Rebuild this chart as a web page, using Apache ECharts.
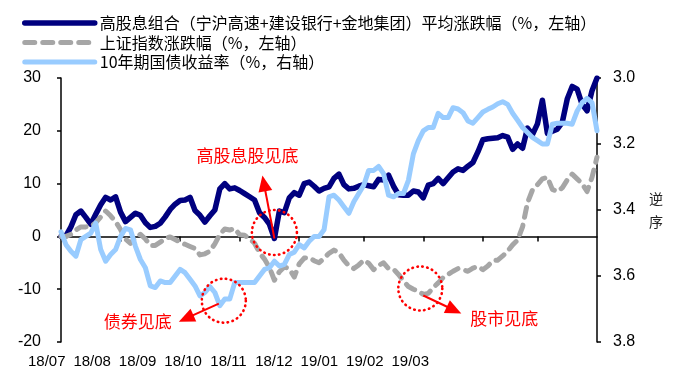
<!DOCTYPE html>
<html>
<head>
<meta charset="utf-8">
<script src="https://cdn.jsdelivr.net/npm/echarts@6/dist/echarts.min.js"></script>
<style>
  html, body { margin: 0; padding: 0; background: #fff; }
  #chart { width: 688px; height: 369px; }
</style>
</head>
<body>
<div id="chart"></div>
<script>
// Month labels shown under the chart
const monthLabels = ['18/07', '18/08', '18/09', '18/10', '18/11', '18/12', '19/01', '19/02', '19/03'];

// Positions (sample index) where each new month begins
const monthStartIdx = [12, 24, 36, 48, 61, 73, 85, 96];

// 高股息组合平均涨跌幅 (%), left axis
const highDividend = [
  0, 0.1, 1.8, 4.1, 4.8, 3.6, 2.3, 4.2, 6.0, 7.4,
  6.9, 7.5, 4.6, 2.8, 3.6, 4.4, 4.0, 2.6, 1.7, 1.9,
  2.5, 3.7, 5.1, 6.1, 6.8, 6.9, 7.4, 4.9, 4.0, 2.7,
  3.9, 5.0, 9.0, 10.0, 9.0, 9.2, 8.7, 8.1, 7.5, 6.9,
  4.5, 3.6, 2.3, -0.4, 4.8, 4.5, 7.3, 8.3, 7.8, 10.0,
  10.3, 9.5, 8.6, 9.1, 9.4, 11.0, 11.8, 9.8, 9.0, 9.1,
  9.5, 9.8, 9.6, 9.4, 10.8, 10.7, 11.6, 9.5, 7.9, 7.8,
  7.8, 8.6, 8.4, 7.3, 9.7, 10.0, 11.0, 10.0, 11.1, 12.2,
  12.8, 12.5, 13.3, 14.0, 16.0, 18.3, 18.5, 18.6, 18.7, 19.1,
  18.8, 16.5, 17.5, 16.7, 20.5, 19.3, 21.3, 25.8, 19.5, 19.9,
  20.3, 21.6, 26.0, 28.4, 27.9, 25.0, 23.8, 27.6, 30.0
];

// 上证指数涨跌幅 (%), left axis
const shIndex = [
  0, 0, 0.4, 1.2, 1.8, 1.8, 1.9, 2.6, 3.7, 4.8,
  3.9, 2.8, 1.3, -0.5, -1.3, -0.3, 0.4, -0.5, -1.7, -1.7,
  -1.1, -0.4, -0.1, -0.6, -1.1, -1.5, -1.9, -2.3, -3.5, -3.3,
  -2.8, -1.4, 0.4, 1.4, 1.2, 1.5, 0.3, 0.2, -0.4, -1.3,
  -3.1, -4.3, -5.9, -8.3, -6.7, -5.8, -6.1, -7.7, -5.2, -4.1,
  -4.0, -4.6, -5.0, -4.1, -3.2, -2.6, -3.1, -4.5, -5.6, -6.1,
  -5.4, -4.5, -5.1, -6.3, -5.5, -5.0, -6.1, -6.2, -7.2, -8.4,
  -9.5, -10.0, -10.4, -11.0, -10.8, -9.7, -8.8, -7.8, -7.2, -6.6,
  -6.1, -6.3, -6.6, -6.0, -5.7, -6.3, -5.6, -4.6, -4.5, -3.7,
  -2.8, -1.6, -0.7, 1.8, 6.4, 8.8, 9.8, 10.9, 11.2, 8.9,
  8.5, 9.2, 10.7, 11.8, 10.9, 10.0, 8.5, 11.2, 15.0
];

// 10年期国债收益率 (%), right axis (inverted)
const bondYield = [
  3.466, 3.505, 3.525, 3.54, 3.49, 3.48, 3.47, 3.44, 3.52, 3.555,
  3.535, 3.52, 3.48, 3.456, 3.46, 3.51, 3.55, 3.575, 3.63, 3.635,
  3.615, 3.62, 3.62, 3.60, 3.58, 3.59, 3.61, 3.63, 3.66, 3.65,
  3.632, 3.65, 3.69, 3.67, 3.67, 3.62, 3.62, 3.62, 3.62, 3.62,
  3.60, 3.58, 3.575, 3.555, 3.57, 3.565, 3.535, 3.528, 3.505, 3.515,
  3.495, 3.48, 3.48, 3.46, 3.36, 3.355, 3.37, 3.39, 3.41, 3.375,
  3.35, 3.325, 3.28, 3.28, 3.268, 3.29, 3.355, 3.36, 3.35, 3.35,
  3.31, 3.23, 3.19, 3.16, 3.15, 3.15, 3.107, 3.12, 3.12, 3.09,
  3.094, 3.105, 3.13, 3.137, 3.12, 3.103, 3.095, 3.088, 3.078, 3.072,
  3.08, 3.107, 3.128, 3.15, 3.165, 3.18, 3.19, 3.20, 3.20, 3.14,
  3.137, 3.137, 3.137, 3.14, 3.10, 3.075, 3.062, 3.075, 3.16
];

const seriesNames = [
  '高股息组合（宁沪高速+建设银行+金地集团）平均涨跌幅（%，左轴）',
  '上证指数涨跌幅（%，左轴）',
  '10年期国债收益率（%，右轴）'
];

const sampleIdx = highDividend.map((_, i) => String(i));
const tickSet = new Set(monthStartIdx);

const NUM_FONT = 'Liberation Sans, Arial, sans-serif';
const CJK_FONT = 'Noto Sans CJK SC, sans-serif';
const RED = '#ff0000';

const navyLine = { color: '#00007f', width: 5.5, join: 'round', cap: 'round' };
const greyLine = { color: '#a6a6a6', width: 5, type: [10, 8], cap: 'round', join: 'round' };
const blueLine = { color: '#99ccff', width: 5, join: 'round', cap: 'round' };

const chart = echarts.init(document.getElementById('chart'), null, { renderer: 'canvas' });

chart.setOption({
  animation: false,
  backgroundColor: '#ffffff',
  grid: [
    { left: 61, right: 91, top: 78, bottom: 27 },
    { left: 24, width: 409, top: 78, bottom: 27 }
  ],
  legend: {
    orient: 'vertical',
    left: 22,
    top: 15,
    padding: 0,
    itemWidth: 70,
    itemHeight: 14,
    itemGap: 3.5,
    // line-only legend keys (hide the marker drawn in the middle)
    itemStyle: { color: 'rgba(0,0,0,0)', borderWidth: 0, opacity: 0 },
    textStyle: { fontSize: 16, color: '#000', fontFamily: CJK_FONT, lineHeight: 16 },
    data: [
      { name: seriesNames[0], lineStyle: { width: 5.5, color: '#00007f', cap: 'round' } },
      { name: seriesNames[1], lineStyle: { width: 5, color: '#a6a6a6', type: [10, 8], cap: 'round' } },
      { name: seriesNames[2], lineStyle: { width: 5, color: '#99ccff', cap: 'round' } }
    ]
  },
  xAxis: [
    {
      type: 'category',
      gridIndex: 0,
      data: sampleIdx,
      boundaryGap: false,
      axisLine: { onZero: true, onZeroAxisIndex: 0, lineStyle: { color: '#000', width: 1.5 } },
      axisTick: {
        show: true,
        length: 5,
        interval: (index) => tickSet.has(index),
        lineStyle: { color: '#000', width: 1.5 }
      },
      axisLabel: { show: false },
      splitLine: { show: false }
    },
    {
      type: 'category',
      gridIndex: 1,
      data: monthLabels,
      boundaryGap: true,
      position: 'bottom',
      axisLine: { show: false },
      axisTick: { show: false },
      axisLabel: { show: true, interval: 0, margin: 13, fontSize: 15, color: '#000', fontFamily: NUM_FONT },
      splitLine: { show: false }
    }
  ],
  yAxis: [
    {
      type: 'value',
      gridIndex: 0,
      position: 'left',
      min: -20,
      max: 30,
      interval: 10,
      axisLine: { show: true, lineStyle: { color: '#000', width: 1.5 } },
      axisTick: { show: true, length: 4, lineStyle: { color: '#000', width: 1.5 } },
      axisLabel: { margin: 20, fontSize: 16, color: '#000', fontFamily: NUM_FONT },
      splitLine: { show: false }
    },
    {
      type: 'value',
      gridIndex: 0,
      position: 'right',
      inverse: true,
      min: 3.0,
      max: 3.8,
      interval: 0.2,
      name: '逆\n序',
      nameLocation: 'middle',
      nameRotate: 0,
      nameGap: 52,
      nameTextStyle: { fontSize: 14, color: '#222', fontFamily: CJK_FONT, lineHeight: 23 },
      axisLine: { show: true, lineStyle: { color: '#000', width: 1.5 } },
      axisTick: { show: true, length: 4, lineStyle: { color: '#000', width: 1.5 } },
      axisLabel: {
        margin: 16, fontSize: 16, color: '#000', fontFamily: NUM_FONT,
        formatter: (v) => v.toFixed(1)
      },
      splitLine: { show: false }
    },
    {
      type: 'value',
      gridIndex: 1,
      show: false
    }
  ],
  series: [
    {
      name: seriesNames[0],
      type: 'line',
      xAxisIndex: 0,
      yAxisIndex: 0,
      data: highDividend,
      symbol: 'none',
      lineStyle: navyLine,
      itemStyle: { color: navyLine.color },
      z: 2
    },
    {
      name: seriesNames[1],
      type: 'line',
      xAxisIndex: 0,
      yAxisIndex: 0,
      data: shIndex,
      symbol: 'none',
      lineStyle: greyLine,
      itemStyle: { color: greyLine.color },
      z: 3
    },
    {
      name: seriesNames[2],
      type: 'line',
      xAxisIndex: 0,
      yAxisIndex: 1,
      data: bondYield,
      symbol: 'none',
      lineStyle: blueLine,
      itemStyle: { color: blueLine.color },
      z: 4
    }
  ]
});

// Annotations anchored to the low points of each series
function px(seriesIndex, idx, val) {
  return chart.convertToPixel({ seriesIndex: seriesIndex }, [idx, val]);
}

function argMin(arr) {
  let k = 0;
  arr.forEach((v, i) => { if (v < arr[k]) k = i; });
  return k;
}
function argMax(arr) {
  let k = 0;
  arr.forEach((v, i) => { if (v > arr[k]) k = i; });
  return k;
}

function arrow(from, to, headLen, headHalf) {
  const dx = to[0] - from[0], dy = to[1] - from[1];
  const len = Math.sqrt(dx * dx + dy * dy);
  const ux = dx / len, uy = dy / len;
  const bx = to[0] - ux * headLen, by = to[1] - uy * headLen;
  const nx = -uy, ny = ux;
  return [
    {
      type: 'line',
      shape: { x1: from[0], y1: from[1], x2: bx + ux * 2, y2: by + uy * 2 },
      style: { stroke: RED, lineWidth: 2 },
      z: 100
    },
    {
      type: 'polygon',
      shape: { points: [[to[0], to[1]], [bx + nx * headHalf, by + ny * headHalf], [bx - nx * headHalf, by - ny * headHalf]] },
      style: { fill: RED },
      z: 100
    }
  ];
}

function dottedCircle(c, r) {
  return {
    type: 'circle',
    shape: { cx: c[0], cy: c[1], r: r },
    style: { fill: 'none', stroke: RED, lineWidth: 2.6, lineDash: [0.5, 4.5], lineCap: 'round' },
    z: 100
  };
}

function label(text, c) {
  return {
    type: 'text',
    x: c[0], y: c[1],
    style: {
      text: text, fill: RED, fontSize: 17, fontFamily: CJK_FONT,
      align: 'center', verticalAlign: 'middle'
    },
    z: 100
  };
}

const iHigh = argMin(highDividend);
const iBond = argMax(bondYield);
const iStock = argMin(shIndex);

const pHigh = px(0, iHigh, highDividend[iHigh]);
const pBond = px(2, iBond, bondYield[iBond]);
const pStock = px(1, iStock, shIndex[iStock]);

const off = (p, dx, dy) => [p[0] + dx, p[1] + dy];

const graphics = [].concat(
  [dottedCircle(off(pHigh, 0, -6), 22.5)],
  arrow(off(pHigh, 0, 0), off(pHigh, -12, -63), 16, 7),
  [label('高股息股见底', off(pHigh, -27, -83))],

  [dottedCircle(off(pBond, 4, -5), 22)],
  arrow(off(pBond, -1, -2), off(pBond, -41, 16), 16, 7),
  [label('债券见底', off(pBond, -82, 16))],

  [dottedCircle(off(pStock, -3, -6), 22)],
  arrow(off(pStock, 0, 1), off(pStock, 38, 19), 16, 7),
  [label('股市见底', off(pStock, 81, 24))]
);

chart.setOption({ graphic: graphics });
</script>
</body>
</html>
